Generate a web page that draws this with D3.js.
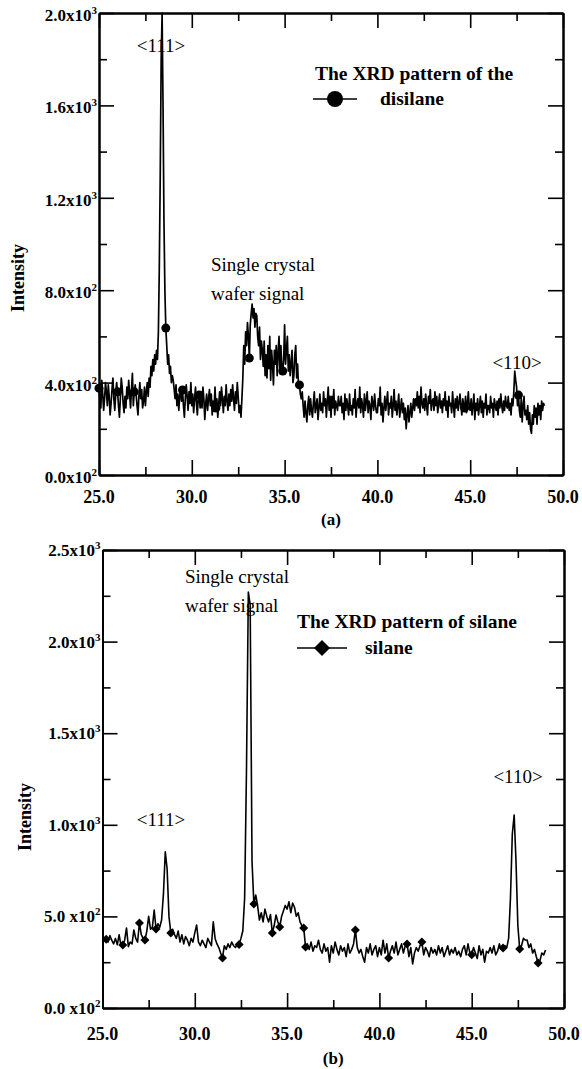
<!DOCTYPE html>
<html><head><meta charset="utf-8">
<script src="https://cdn.jsdelivr.net/npm/d3@7"></script>
<style>
body{margin:0;background:#fff}
svg{display:block}
text{font-family:"Liberation Serif","Times New Roman",serif;fill:#000}
</style>
</head><body><svg id="c" width="582" height="1069"></svg>
<script>
// ---- data ----
const scanStart = 25.0;          // first 2-theta of both scans (deg)
const disilaneStep = 0.05;       // sampling step of the disilane scan
const silaneStep = 0.1;          // sampling step of the silane scan
const disilaneIntensity = [
376,320,290,410,350,280,330,400,360,300,
390,340,260,310,370,420,330,280,350,400,
360,300,250,330,420,380,310,270,340,290,
380,330,410,350,290,370,440,300,360,390,
350,300,260,340,400,330,370,290,320,380,
300,360,400,340,420,380,470,430,500,450,
520,480,540,500,620,900,1300,1800,2000,1600,
1100,800,636,560,480,520,440,470,400,430,
410,370,330,390,300,350,280,340,380,320,
368,300,250,330,390,340,280,360,310,400,
300,350,270,330,380,310,260,340,346,290,
360,290,380,330,240,310,350,280,330,370,
300,350,260,320,280,380,290,330,250,310,
360,300,380,330,270,340,300,390,320,280,
350,300,370,320,390,330,280,360,310,400,
340,270,300,250,330,420,560,480,620,560,
660,600,506,650,700,740,680,720,640,700,
690,600,560,640,500,580,540,470,580,430,
520,420,560,460,600,410,540,480,390,540,
480,560,430,530,600,440,560,470,450,500,
650,480,540,600,450,520,430,480,540,400,
430,520,560,420,480,380,390,350,330,360,
300,250,320,270,230,300,340,260,330,280,
250,310,360,270,300,330,240,290,350,280,
310,270,360,300,330,250,320,380,280,340,
250,340,290,370,260,320,300,280,340,300,
300,340,270,310,240,350,280,330,300,260,
350,280,300,260,330,290,370,250,310,330,
290,380,270,330,300,250,350,280,320,360,
270,320,300,240,340,310,280,350,300,270,
270,330,300,380,260,310,230,290,340,280,
320,360,260,310,290,340,250,300,370,280,
320,260,300,350,250,290,330,270,310,240,
290,200,260,300,230,270,310,250,290,330,
280,330,300,360,290,340,270,380,310,290,
330,280,350,300,260,340,310,370,280,320,
330,280,360,300,340,270,310,350,290,320,
270,330,300,360,280,320,250,340,300,310,
270,360,300,250,330,290,340,280,310,350,
300,260,330,300,290,340,270,310,360,290,
280,330,260,300,350,240,310,280,330,260,
300,340,270,320,250,310,290,350,260,300,
300,270,340,290,310,250,330,300,280,320,
260,330,290,350,300,270,320,280,340,300,
290,340,280,310,260,330,300,360,450,410,
380,300,346,280,250,330,230,300,340,260,
280,240,300,220,270,200,180,260,220,300,
250,290,220,310,260,300,240,320,280,310,
300];
const silaneIntensity = [
382,380,375,360,395,370,350,380,345,400,
340,344,370,437,335,360,350,426,380,360,
464,400,380,371,420,500,430,440,535,431,
460,440,480,620,852,760,500,410,430,400,
380,420,360,400,350,390,370,340,380,360,
410,453,360,340,370,350,330,380,360,340,
470,380,350,330,300,273,340,320,350,330,
360,340,330,350,347,380,420,600,1300,2270,
2200,800,568,617,560,480,520,470,540,500,
470,510,410,450,508,470,442,500,530,560,
540,580,520,573,550,500,520,470,450,437,
333,350,320,360,310,340,330,370,320,300,
350,310,330,250,340,300,360,320,290,340,
310,330,280,350,300,320,350,426,330,300,
320,280,250,330,300,350,290,320,340,280,
330,290,370,300,350,273,310,340,300,360,
290,320,350,300,340,350,280,330,240,300,
330,310,340,360,290,330,310,280,330,300,
320,290,340,300,330,280,310,340,290,320,
300,330,290,310,280,320,340,290,350,300,
290,330,300,270,340,290,320,250,310,300,
330,300,340,290,310,350,320,327,340,330,
380,600,950,1053,800,450,322,340,380,371,
371,330,350,300,320,280,246,260,300,290,
317];
const disilaneMarkerAngles = [25.0,26.0,26.9,28.6,29.5,30.4,31.3,33.1,34.9,35.8,44.7,47.6];
const silaneMarkerAngles = [25.2,26.1,27.0,27.3,27.9,28.7,31.5,32.4,33.2,34.2,34.6,35.9,36.0,38.7,40.5,41.5,42.3,45.0,46.7,47.6,48.6];
const xMajorTicks = [25,30,35,40,45,50];
const xTickLabels = ["25.0","30.0","35.0","40.0","45.0","50.0"];
const xMinorTicks = [27.5,32.5,37.5,42.5,47.5];
const topYTicks = [0,400,800,1200,1600,2000];
const topYMinor = [200,600,1000,1400,1800];
const topYMantissa = ["0.0x10","4.0x10","8.0x10","1.2x10","1.6x10","2.0x10"];
const topYExp = ["2","2","2","3","3","3"];
const botYTicks = [0,500,1000,1500,2000,2500];
const botYMinor = [250,750,1250,1750,2250];
const botYMantissa = ["0.0 x10","5.0 x10","1.0x10","1.5x10","2.0x10","2.5x10"];
const botYExp = ["2","2","3","3","3","3"];

// ---- drawing ----
const svg = d3.select("#c");

function panel(o){
  const x = d3.scaleLinear().domain([25,50]).range([o.l,o.r]);
  const y = d3.scaleLinear().domain([0,o.yMax]).range([o.b,o.t]);
  const g = svg.append("g");
  const maj = 15, mi = 8;
  function ax(gen, tr, vals, size){
    const a = g.append("g").attr("transform",tr)
      .call(gen.tickValues(vals).tickSize(-size).tickSizeOuter(0).tickFormat(""));
    a.selectAll("path").attr("stroke","#000").attr("stroke-width",2);
    a.selectAll("line").attr("stroke","#000").attr("stroke-width",1.6);
  }
  ax(d3.axisBottom(x),`translate(0,${o.b})`,xMajorTicks,maj);
  ax(d3.axisBottom(x),`translate(0,${o.b})`,xMinorTicks,mi);
  ax(d3.axisTop(x),`translate(0,${o.t})`,xMajorTicks,maj);
  ax(d3.axisTop(x),`translate(0,${o.t})`,xMinorTicks,mi);
  ax(d3.axisLeft(y),`translate(${o.l},0)`,o.yTicks,maj);
  ax(d3.axisLeft(y),`translate(${o.l},0)`,o.yMinor,mi);
  ax(d3.axisRight(y),`translate(${o.r},0)`,o.yTicks,maj);
  ax(d3.axisRight(y),`translate(${o.r},0)`,o.yMinor,mi);

  o.yTicks.forEach((v,i)=>{
    const t = g.append("text").attr("x",o.l-2).attr("y",y(v)+o.yLabDy)
      .attr("text-anchor","end").attr("font-weight","bold").attr("font-size",17);
    t.append("tspan").text(o.mant[i]);
    t.append("tspan").attr("dy",-7).attr("font-size",11).text(o.exp[i]);
  });
  xMajorTicks.forEach((v,i)=>{
    g.append("text").attr("x",x(v)).attr("y",o.b+o.xLabDy).attr("text-anchor","middle")
      .attr("font-weight","bold").attr("font-size",18).text(xTickLabels[i]);
  });
  g.append("text").attr("x",(o.l+o.r)/2).attr("y",o.capY).attr("text-anchor","middle")
    .attr("font-weight","bold").attr("font-size",17).text(o.cap);
  g.append("text").attr("transform",`translate(${o.ylx},${o.yly}) rotate(-90)`)
    .attr("text-anchor","middle").attr("font-weight","bold").attr("font-size",18).text("Intensity");

  const pts = o.data.map((v,i)=>[scanStart+i*o.step, v]);
  g.append("path").datum(pts).attr("fill","none").attr("stroke","#000").attr("stroke-width",o.sw)
    .attr("stroke-linejoin","round")
    .attr("d", d3.line().x(d=>x(d[0])).y(d=>y(d[1])));
  o.markers.forEach(a=>{
    const idx = Math.round((a-scanStart)/o.step);
    o.sym(g, x(scanStart+idx*o.step), y(o.data[idx]), 4.5);
  });
  o.notes.forEach(n=>{
    g.append("text").attr("x",n[0]).attr("y",n[1]).attr("text-anchor",n[3]||"start")
      .attr("font-size",19).text(n[2]);
  });
  const L = o.leg;
  g.append("text").attr("x",L.tx).attr("y",L.ty).attr("font-weight","bold").attr("font-size",19.5).text(L.title);
  g.append("line").attr("x1",L.lx1).attr("x2",L.lx2).attr("y1",L.ly).attr("y2",L.ly)
    .attr("stroke","#000").attr("stroke-width",1.5);
  o.sym(g,(L.lx1+L.lx2)/2,L.ly,8);
  g.append("text").attr("x",L.nx).attr("y",L.ly+6).attr("font-weight","bold").attr("font-size",19.5).text(L.name);
}

const circleSym = (g,cx,cy,r)=>g.append("circle").attr("cx",cx).attr("cy",cy).attr("r",r).attr("fill","#000");
const diamondSym = (g,cx,cy,r)=>g.append("path")
  .attr("d",`M${cx},${cy-r}L${cx+r},${cy}L${cx},${cy+r}L${cx-r},${cy}Z`).attr("fill","#000");

panel({l:99,r:563,t:13,b:475,yMax:2000,yTicks:topYTicks,yMinor:topYMinor,mant:topYMantissa,exp:topYExp,
  yLabDy:8,xLabDy:28,capY:525,cap:"(a)",ylx:24,yly:278,step:disilaneStep,sw:1.7,
  data:disilaneIntensity,markers:disilaneMarkerAngles,sym:circleSym,
  notes:[[161,52,"<111>","middle"],[211,271,"Single crystal"],[211,300,"wafer signal"],[517,369,"<110>","middle"]],
  leg:{tx:315,ty:80,title:"The XRD pattern of the",lx1:313,lx2:357,ly:99,nx:380,name:"disilane"}});

panel({l:102.5,r:564,t:550,b:1008,yMax:2500,yTicks:botYTicks,yMinor:botYMinor,mant:botYMantissa,exp:botYExp,
  yLabDy:6,xLabDy:32,capY:1064,cap:"(b)",ylx:31,yly:817,step:silaneStep,sw:1.6,
  data:silaneIntensity,markers:silaneMarkerAngles,sym:diamondSym,
  notes:[[185,583,"Single crystal"],[185,612,"wafer signal"],[161,826,"<111>","middle"],[518,783,"<110>","middle"]],
  leg:{tx:297,ty:628,title:"The XRD pattern of silane",lx1:297,lx2:347,ly:648,nx:365,name:"silane"}});
</script>
</body></html>
